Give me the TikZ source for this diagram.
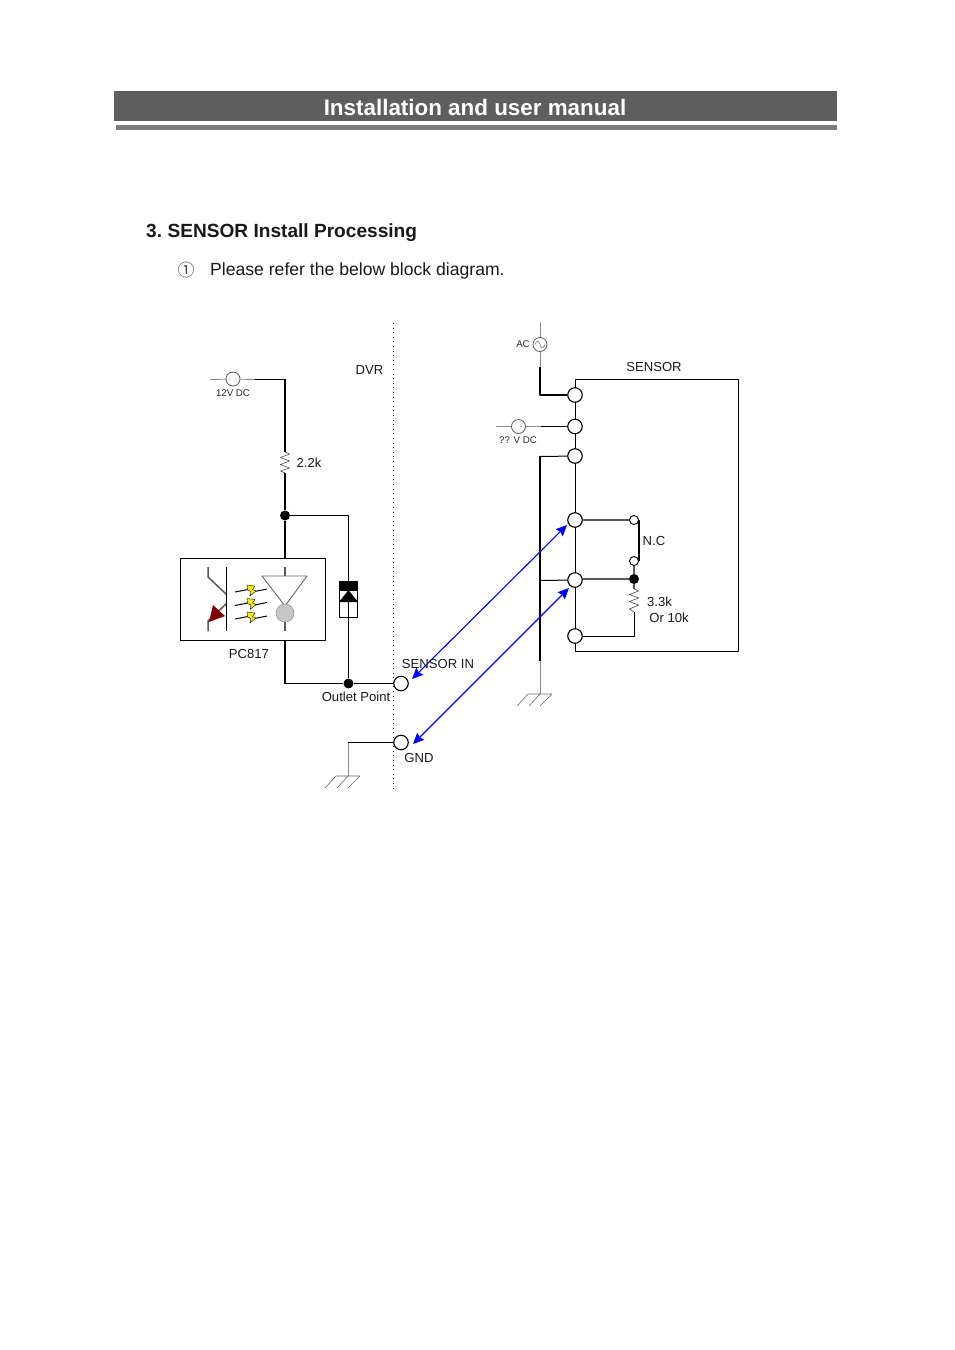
\documentclass[tikz,border=0pt]{standalone}
\usepackage{fontspec}
\setmainfont{Liberation Sans}
\newfontfamily\symfont{Noto Sans CJK KR}
\usetikzlibrary{arrows.meta}

\tikzset{
    txt/.style={inner sep=0pt, font=\fontsize{13.1}{15}\selectfont, text=black!90},
    tiny/.style={inner sep=0pt, font=\fontsize{9.7}{11}\selectfont, text=black!85},
    port/.style={circle, draw=black, fill=white, line width=1.1pt, minimum size=14.5pt, inner sep=0pt},
    sport/.style={circle, draw=black, fill=white, line width=.9pt, minimum size=9pt, inner sep=0pt},
    dot/.style={circle, fill=black, minimum size=10pt, inner sep=0pt},
    src/.style={circle, draw=black!65, fill=white, line width=.8pt, minimum size=14pt, inner sep=0pt},
    wire/.style={line width=1pt},
    fat/.style={line width=1.8pt},
    lead/.style={line width=.9pt, black!45},
    dk/.style={line width=1.5pt, black!65},
    link/.style={blue, line width=1.1pt, {Stealth[length=11pt,width=10pt,inset=1.5pt]}-{Stealth[length=11pt,width=10pt,inset=1.5pt]}}
}

\begin{document}
\begin{tikzpicture}[x=1pt, y=-1pt, line join=round]
    \useasboundingbox (0,0) rectangle (954,1350);

    % page header
    \fill[black!63] (114,91) rectangle (837,121);
    \fill[black!52] (116,125) rectangle (837,130);
    \node[font=\fontsize{22.4}{26}\bfseries\selectfont, text=white] (title) at (475,107) {Installation and user manual};
    \node[anchor=west, inner sep=0pt, font=\fontsize{19.1}{22}\bfseries\selectfont, text=black!90] (head) at (146,233) {3.\hspace{-1.6pt} SENSOR Install Processing};
    \node[anchor=west, inner sep=0pt, font=\fontsize{17.6}{20}\selectfont, text=black!90] (intro) at (210,271) {Please refer the below block diagram.};
    \node[inner sep=0pt, font=\symfont\fontsize{17}{20}\selectfont, text=black!75] (num) at (186,270) {①};

    % divider
    \draw[line width=.9pt, dash pattern=on .9pt off 3.7pt] (393.5,323) -- (393.5,789);

    % sensor box
    \draw[wire] (575,379.5) rectangle (738.5,651.5);

    % terminals
    \node[port] (s1) at (575,395) {};
    \node[port] (s2) at (575,426.5) {};
    \node[port] (s3) at (575,456) {};
    \node[port] (s4) at (575,520) {};
    \node[port] (s5) at (575,580) {};
    \node[port] (s6) at (575,636) {};
    \node[port] (in) at (401,683.5) {};
    \node[port] (gnd) at (401,742.5) {};
    \node[sport] (nc1) at (634,520) {};
    \node[sport] (nc2) at (634,561) {};
    \node[dot] (j3) at (634,579) {};
    \node[dot] (j1) at (285,515.5) {};
    \node[dot] (j2) at (348.5,683.5) {};

    % sources
    \node[src] (v12) at (233,379) {};
    \node[src] (vx) at (518.5,426.5) {};
    \node[src] (vac) at (540,344.5) {};
    \draw[black!55, line width=.6pt] (535,344.5) .. controls (537,339) and (539,341) .. (540,344.5) .. controls (541,348) and (543,350) .. (545,344.5);
    \fill[black!45] (233,379) ++(-3,0) circle (.7pt) ++(6,0) circle (.7pt);
    \fill[black!45] (518.5,426.5) ++(3,0) circle (.7pt);

    % left side
    \coordinate (r1a) at (285,452);
    \coordinate (r1b) at (285,473);
    \coordinate (v12e) at (255,379.5);
    \coordinate (pcT) at (285,558);
    \coordinate (pcB) at (285,640);
    \draw[lead] (210,379.5) -- (v12);
    \draw[lead] (v12) -- (v12e);
    \draw[wire] (v12e) -- (285,379.5);
    \draw[fat] (285,379) -- (r1a);
    \draw[black!70, line width=.6pt] (r1a) -- ++(4.5,2) -- ++(-9,3.5) -- ++(9,3.5) -- ++(-9,3.5) -- ++(9,3.5) -- ++(-9,3) -- (r1b);
    \draw[fat] (r1b) -- (j1);
    \draw[fat] (j1) -- (pcT);
    \draw[wire] (j1) -| (j2);
    \draw[fat] (pcB) -- (285,684);
    \draw[wire] (285,683.5) -- (j2);
    \draw[wire] (j2) -- (in);

    % PC817
    \node[draw, line width=.9pt, minimum width=145pt, minimum height=82pt, inner sep=0pt] (pc) at (253,599) {};
    \draw[dk] (208,567) -- (208,577) -- (226,594);
    \draw[black, line width=1pt] (226,567) -- (226,631);
    \draw[dk] (226,604) -- (208,621) -- (208,631);
    \fill[red!50!black] (213,605) -- (225,616) -- (209,622) -- cycle;
    \draw[dk] (285,567) -- (285,576);
    \draw[dk] (285,622) -- (285,631);
    \draw[black!60, line width=.9pt] (262,576) -- (307,576) -- (285,606) -- cycle;
    \node[circle, fill=black!22, draw=black!45, line width=.5pt, minimum size=18pt, inner sep=0pt] (led) at (285,613) {};
    \foreach \yy in {590,603.5,617} {
        \draw[black, line width=1pt] (235,\yy+2) -- (250.5,\yy-1);
        \draw[black, line width=1pt] (252,\yy+2) -- (267,\yy-1);
        \fill[yellow!95!black, draw=black, line width=.35pt] (247,\yy-5) -- (255,\yy-4) -- (252.5,\yy-.5) -- (256,\yy+1) -- (250,\yy+6) -- (251,\yy+1.5) -- (247.5,\yy) -- cycle;
    }

    % diode
    \node[draw, line width=.8pt, minimum width=18.5pt, minimum height=36pt, inner sep=0pt] (diode) at (348.5,599.5) {};
    \fill (339,581) rectangle (358,590.5);
    \fill (348.5,590) -- (358,602) -- (339,602) -- cycle;

    % ground, DVR
    \coordinate (g1) at (348,776);
    \draw[wire] (gnd) -- (348,742.5);
    \draw[lead] (348,742.5) -- (g1);
    \draw[black!60, line width=.6pt] (336,776) -- (360,776) (336,776) -- (325,788) (348,776) -- (337,788) (360,776) -- (348,788);

    % right side
    \draw[lead] (540,322) -- (vac);
    \draw[lead] (vac) -- (540,367);
    \draw[fat] (540,367) -- (540,395) -- (s1);
    \draw[lead] (496,426.5) -- (vx);
    \draw[lead] (vx) -- (541,426.5);
    \draw[wire] (541,426.5) -- (s2);
    \draw[fat] (540,661) -- (540,456);
    \draw[wire] (540,456.5) -- (s3);
    \draw[wire] (540,580.5) -- (s5);
    \draw[lead] (540,661) -- (540,694);
    \draw[black!60, line width=.6pt] (528,694) -- (552,694) (528,694) -- (517,706) (540,694) -- (529,706) (552,694) -- (540,706);

    % sensor inside
    \draw[dk] (s4) -- (nc1);
    \draw[dk] (j3 -| s5.east) -- (j3);
    \draw[fat] (639,520) -- (639,561);
    \draw[dk] (nc2) -- (j3);
    \coordinate (r2a) at (634,589);
    \coordinate (r2b) at (634,612);
    \draw[dk] (j3) -- (r2a);
    \draw[black!70, line width=.6pt] (r2a) -- ++(4.5,2) -- ++(-9,3.5) -- ++(9,3.5) -- ++(-9,3.5) -- ++(9,3.5) -- ++(-9,4) -- (r2b);
    \draw[wire] (r2b) |- (s6);

    % links
    \coordinate (a1) at (412,679);
    \coordinate (a2) at (567,525);
    \coordinate (b1) at (413,744);
    \coordinate (b2) at (569,588);
    \draw[link] (a1) -- (a2);
    \draw[link] (b1) -- (b2);

    % labels
    \node[txt] (ldvr) at (369.5,369.5) {DVR};
    \node[txt] (lsen) at (654,366.5) {SENSOR};
    \node[tiny] (l12) at (233,393) {12V DC};
    \node[tiny] (lac) at (523,344) {AC};
    \node[tiny] (lvx) at (518,440) {?? V DC};
    \node[txt] (l22) at (309,463) {2.2k};
    \node[txt] (lpc) at (249,653.5) {PC817};
    \node[txt] (lin) at (438,663.5) {SENSOR IN};
    \node[txt] (lout) at (356,696.5) {Outlet Point};
    \node[txt] (lgnd) at (419,757.5) {GND};
    \node[txt] (lnc) at (654,541) {N.C};
    \node[txt] (l33) at (659.5,601.5) {3.3k};
    \node[txt] (l10) at (669,617.5) {Or 10k};
\end{tikzpicture}
\end{document}
